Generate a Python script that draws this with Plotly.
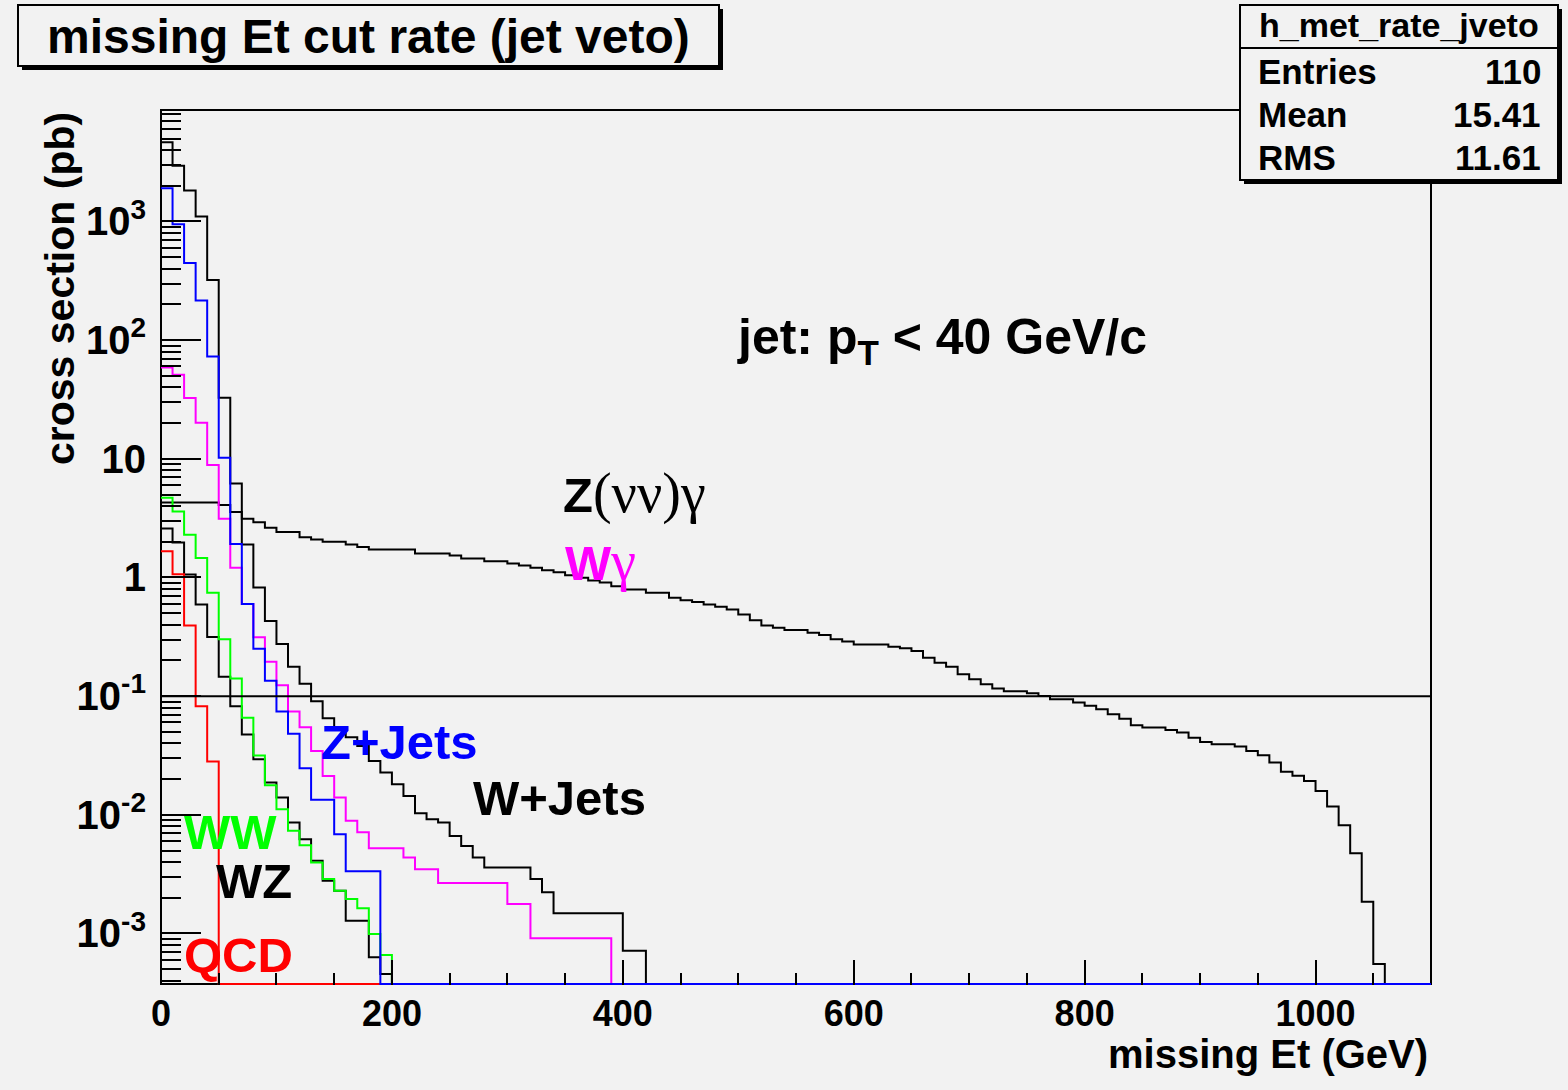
import math
import plotly.graph_objects as go

# ---------------------------------------------------------------------------
# Missing-Et cut rate after the jet veto: cross section (pb) passing a
# missing-Et cut, 10 GeV bins from 0 to 1100 GeV.  Bins past the end of each
# list are empty.
# ---------------------------------------------------------------------------
BIN_WIDTH = 10.0
X_MAX = 1100.0
Y_FLOOR = 3.75e-4
Y_TOP = 8.7e3
CUT_LEVEL = 0.1

z_nunu_gamma = [
    4.28, 4.28, 4.28, 4.28, 4.28, 4.08, 3.57, 3.12, 2.92, 2.62,
    2.42, 2.42, 2.18, 2.09, 2.00, 2.00, 1.90, 1.81, 1.72, 1.72,
    1.72, 1.72, 1.59, 1.59, 1.59, 1.53, 1.445, 1.445, 1.372, 1.372,
    1.312, 1.262, 1.207, 1.152, 1.108, 1.046, 0.994, 0.944, 0.908, 0.845,
    0.792, 0.792, 0.743, 0.743, 0.675, 0.644, 0.620, 0.593, 0.567, 0.538,
    0.488, 0.437, 0.394, 0.377, 0.360, 0.360, 0.342, 0.327, 0.301, 0.288,
    0.273, 0.273, 0.273, 0.261, 0.253, 0.240, 0.211, 0.191, 0.177, 0.153,
    0.139, 0.126, 0.116, 0.110, 0.110, 0.1056, 0.1002, 0.0940, 0.0940, 0.0882,
    0.0829, 0.0774, 0.0703, 0.0646, 0.0568, 0.0543, 0.0543, 0.0518, 0.0493, 0.0447,
    0.0411, 0.0393, 0.0393, 0.0376, 0.0345, 0.0318, 0.0276, 0.0230, 0.0213, 0.0193,
    0.0159, 0.01175, 0.00818, 0.00475, 0.00185, 0.000553,
]

w_jets = [
    4650, 2950, 1820, 1100, 322, 32.7, 6.18, 1.90, 0.824, 0.429,
    0.275, 0.1765, 0.127, 0.0904, 0.0650, 0.0546, 0.0450, 0.0380, 0.0284, 0.0227,
    0.0181, 0.0144, 0.0103, 0.00918, 0.00861, 0.00664, 0.00547, 0.00437, 0.00360, 0.00360,
    0.00360, 0.00360, 0.00287, 0.00222, 0.00148, 0.00148, 0.00148, 0.00148, 0.00148, 0.00148,
    0.000715, 0.000715,
]

z_jets = [
    1910, 949, 446, 216, 72.9, 10.2, 1.91, 0.598, 0.251, 0.1345,
    0.0741, 0.0482, 0.0247, 0.0134, 0.0134, 0.00687, 0.00335, 0.00335, 0.00335,
]

w_gamma = [
    58.9, 51.1, 32.6, 20.1, 8.85, 3.13, 1.21, 0.598, 0.313, 0.195,
    0.1233, 0.0741, 0.0546, 0.0345, 0.02125, 0.01398, 0.00889, 0.00714, 0.00523, 0.00523,
    0.00523, 0.00437, 0.00348, 0.00348, 0.00266, 0.00266, 0.00266, 0.00266, 0.00266, 0.00266,
    0.00177, 0.00177, 0.000909, 0.000909, 0.000909, 0.000909, 0.000909, 0.000909, 0.000909,
]

ww = [
    4.69, 3.59, 2.29, 1.459, 0.743, 0.301, 0.1406, 0.0657, 0.03155, 0.01775,
    0.01114, 0.00732, 0.00555, 0.00397, 0.00287, 0.00229, 0.00195, 0.00163, 0.000988, 0.000658,
]

wz = [
    2.585, 1.97, 1.06, 0.593, 0.3145, 0.1454, 0.0821, 0.0474, 0.02938, 0.0187,
    0.01398, 0.00861, 0.00623, 0.00409, 0.00278, 0.00229, 0.00128, 0.00128, 0.000629, 0.000455,
]

qcd = [1.665, 1.066, 0.394, 0.0821, 0.0281]

# (name, contents, colour) in drawing order; the last one ends up on top
samples = [
    ("Z(nunu)gamma", z_nunu_gamma, "#000000"),
    ("W+Jets", w_jets, "#000000"),
    ("WZ", wz, "#000000"),
    ("WW", ww, "#00ff00"),
    ("Wgamma", w_gamma, "#ff00ff"),
    ("QCD", qcd, "#ff0000"),
    ("Z+Jets", z_jets, "#0000ff"),
]

# ---------------------------------------------------------------------------
# canvas geometry (pixels)
# ---------------------------------------------------------------------------
WIDTH, HEIGHT = 1568, 1090
L, T, R, B = 161, 110, 1431, 985
PW, PH = R - L, B - T
BG = "#f2f2f2"
SANS = "Liberation Sans, Arial, Helvetica, sans-serif"
SERIF = "Liberation Serif, Times New Roman, serif"

# one pixel, in decades, so the empty-bin line sits on the frame
ONE_PX_DEC = (math.log10(Y_TOP) - math.log10(Y_FLOOR)) / PH


def px(x):
    return (x - L) / PW


def py(y):
    return (B - y) / PH


def step_outline(contents):
    """ROOT-style histogram outline: flat tops joined by verticals, then the
    empty bins drawn along the bottom of the frame."""
    xs, ys = [], []
    for i, v in enumerate(contents):
        xs += [i * BIN_WIDTH, (i + 1) * BIN_WIDTH]
        ys += [v, v]
    end = len(contents) * BIN_WIDTH
    xs += [end, X_MAX]
    ys += [Y_FLOOR, Y_FLOOR]
    return xs, ys


fig = go.Figure()

for name, contents, colour in samples:
    xs, ys = step_outline(contents)
    fig.add_trace(go.Scatter(
        x=xs, y=ys, mode="lines", name=name,
        line=dict(color=colour, width=2),
        hoverinfo="skip", showlegend=False,
    ))

# horizontal reference line at 0.1 pb
fig.add_trace(go.Scatter(
    x=[0, X_MAX], y=[CUT_LEVEL, CUT_LEVEL], mode="lines",
    line=dict(color="#000000", width=2), hoverinfo="skip", showlegend=False,
))

# ---------------------------------------------------------------------------
# axes
# ---------------------------------------------------------------------------
x_major = [0, 200, 400, 600, 800, 1000]
fig.update_xaxes(
    range=[0, X_MAX], showgrid=False, zeroline=False, showline=False,
    ticks="inside", ticklen=25, tickwidth=2, tickcolor="#000000",
    tickmode="array", tickvals=x_major, ticktext=[str(v) for v in x_major],
    tickfont=dict(family=SANS, size=36, color="#000000", weight="bold"),
    ticklabelstandoff=4,
    minor=dict(ticks="inside", ticklen=12, tickwidth=2, tickcolor="#000000",
               tick0=0, dtick=50),
)

y_major = [1e-3, 1e-2, 1e-1, 1, 10, 1e2, 1e3]
y_text = ["10<sup>-3</sup>", "10<sup>-2</sup>", "10<sup>-1</sup>", "1", "10",
          "10<sup>2</sup>", "10<sup>3</sup>"]
y_minor = [m * 10.0 ** e for e in range(-4, 4) for m in range(2, 10)]
fig.update_yaxes(
    type="log",
    range=[math.log10(Y_FLOOR) - ONE_PX_DEC, math.log10(Y_TOP)],
    showgrid=False, zeroline=False, showline=False,
    ticks="inside", ticklen=40, tickwidth=2, tickcolor="#000000",
    tickmode="array", tickvals=y_major, ticktext=y_text,
    tickfont=dict(family=SANS, size=40, color="#000000", weight="bold"),
    ticklabelstandoff=14,
    minor=dict(ticks="inside", ticklen=20, tickwidth=2, tickcolor="#000000",
               tickmode="array", tickvals=y_minor),
)

# ---------------------------------------------------------------------------
# frame, title box and statistics box
# ---------------------------------------------------------------------------
shapes = [
    dict(type="rect", xref="paper", yref="paper", x0=0, x1=1, y0=1 / PH, y1=1,
         line=dict(color="#000000", width=2), fillcolor="rgba(0,0,0,0)",
         layer="below"),
    # title box with its shadow
    dict(type="rect", xref="paper", yref="paper",
         x0=px(22), x1=px(723), y0=py(70), y1=py(9),
         line=dict(width=0), fillcolor="#000000", layer="above"),
    dict(type="rect", xref="paper", yref="paper",
         x0=px(18), x1=px(719), y0=py(66), y1=py(5),
         line=dict(color="#000000", width=2), fillcolor=BG, layer="above"),
    # statistics box with its shadow
    dict(type="rect", xref="paper", yref="paper",
         x0=px(1244), x1=px(1562), y0=py(184), y1=py(9),
         line=dict(width=0), fillcolor="#000000", layer="above"),
    dict(type="rect", xref="paper", yref="paper",
         x0=px(1240), x1=px(1558), y0=py(180), y1=py(5),
         line=dict(color="#000000", width=2), fillcolor=BG, layer="above"),
    dict(type="line", xref="paper", yref="paper",
         x0=px(1240), x1=px(1558), y0=py(48), y1=py(48),
         line=dict(color="#000000", width=2), layer="above"),
]


def label(text, x, y, size, colour="#000000", xanchor="left", yanchor="middle",
          angle=0):
    return dict(text=text, xref="paper", yref="paper", x=px(x), y=py(y),
                xanchor=xanchor, yanchor=yanchor, showarrow=False,
                textangle=angle,
                font=dict(family=SANS, size=size, color=colour, weight="bold"))


def greek(s, size):
    return (f"<span style='font-family:{SERIF};font-weight:normal;"
            f"font-size:{size}px'>{s}</span>")


annotations = [
    label("missing Et cut rate (jet veto)", 368, 36, 48, xanchor="center"),
    label("h_met_rate_jveto", 1399, 25, 34, xanchor="center"),
    label("Entries", 1256, 71, 35),
    label("110", 1543, 71, 35, xanchor="right"),
    label("Mean", 1256, 115, 35),
    label("15.41", 1543, 115, 35, xanchor="right"),
    label("RMS", 1256, 158, 35),
    label("11.61", 1543, 158, 35, xanchor="right"),
    # axis titles
    label("missing Et (GeV)", 1430, 1054, 40, xanchor="right"),
    label("cross section (pb)", 60, 288, 41, xanchor="center", angle=-90),
    # sample labels
    label("jet: p<sub>T</sub> &lt; 40 GeV/c", 735, 340, 50),
    label("Z" + greek("(\u03bd\u03bd)\u03b3", 56), 561, 493, 49),
    label("W" + greek("\u03b3", 56), 563, 561, 49, colour="#ff00ff"),
    label("Z+Jets", 319, 742, 49, colour="#0000ff"),
    label("W+Jets", 471, 798, 49),
    label("WW", 182, 832, 49, colour="#00ff00"),
    label("WZ", 214, 881, 49),
    label("QCD", 182, 955, 49, colour="#ff0000"),
]

fig.update_layout(
    width=WIDTH, height=HEIGHT,
    margin=dict(l=L, r=WIDTH - R, t=T, b=HEIGHT - B, pad=0),
    paper_bgcolor=BG, plot_bgcolor=BG,
    font=dict(family=SANS, color="#000000"),
    showlegend=False,
    shapes=shapes, annotations=annotations,
)

fig.write_html("out.html")
